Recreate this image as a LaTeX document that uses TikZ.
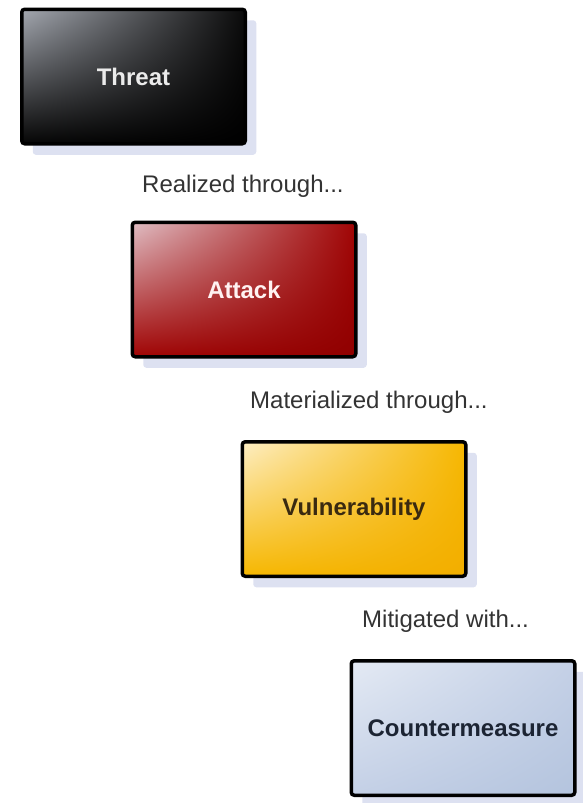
\documentclass[tikz,border=0pt]{standalone}
\usepackage{fontspec}
\setmainfont{Liberation Sans}
\usepackage{xcolor}
\usepackage{tikz}
\usetikzlibrary{shadows,shadings}

\definecolor{shadowblue}{HTML}{DDE1F1}
\definecolor{labelgray}{HTML}{333333}
\definecolor{threatlight}{HTML}{A4A8B0}
\definecolor{attacklight}{HTML}{E0BEC4}
\definecolor{attackred}{HTML}{A00404}
\definecolor{attackdark}{HTML}{900000}
\definecolor{vulnlight}{HTML}{FDEEC4}
\definecolor{vulnorange}{HTML}{F6B700}
\definecolor{vulndark}{HTML}{F2AE00}
\definecolor{vulntext}{HTML}{3A2A10}
\definecolor{counterlight}{HTML}{E4EAF4}
\definecolor{counterblue}{HTML}{C4D0E6}
\definecolor{counterdark}{HTML}{B4C4DE}
\definecolor{countertext}{HTML}{1C2433}

\begin{document}
\begin{tikzpicture}[
  x=1pt, y=1pt,
  font=\fontsize{24}{28}\selectfont,
  card/.style={draw=black, line width=3.5pt, rounded corners=3pt,
               minimum width=223.5pt, minimum height=134.5pt, inner sep=0pt,
               font=\fontsize{24}{28}\selectfont\bfseries,
               drop shadow={shadow xshift=11pt, shadow yshift=-11pt,
                            fill=shadowblue, opacity=1}},
  threatbox/.style={card, text=black!8,
               upper left=threatlight, upper right=black!96,
               lower left=black!98, lower right=black},
  attackbox/.style={card, text=red!5!white,
               upper left=attacklight, upper right=attackred,
               lower left=attackred, lower right=attackdark},
  vulnbox/.style={card, text=vulntext,
               upper left=vulnlight, upper right=vulnorange,
               lower left=vulnorange, lower right=vulndark},
  counterbox/.style={card, text=countertext,
               upper left=counterlight, upper right=counterblue,
               lower left=counterblue, lower right=counterdark},
  link/.style={anchor=base west, inner sep=0pt, text=labelgray},
]
\useasboundingbox (0,0) rectangle (583,-803);

\node[threatbox]  (threat)  at (133.5,-76.5) {Threat};
\node[attackbox]  (attack)  at (244,-289.5)  {Attack};
\node[vulnbox]    (vuln)    at (354,-509)    {Vulnerability};
\node[counterbox] (counter) at (463,-728)    {Countermeasure};

% steps between the boxes
\node[link] (realized)     at (142,-192) {Realized through...};
\node[link] (materialized) at (250,-408) {Materialized through...};
\node[link] (mitigated)    at (362,-627) {Mitigated with...};

\end{tikzpicture}
\end{document}
